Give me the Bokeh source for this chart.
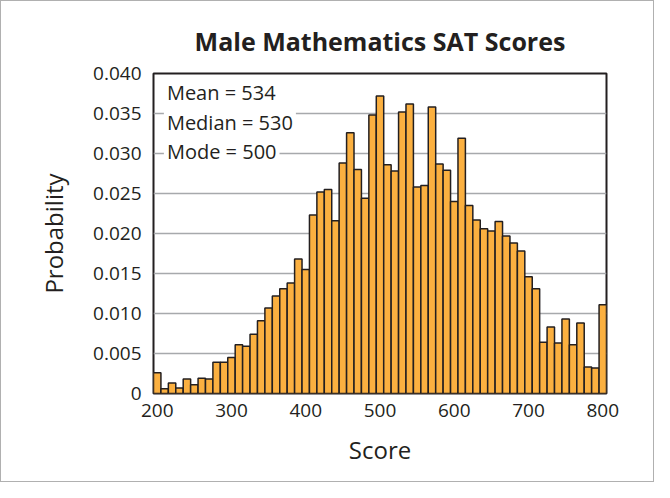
from bokeh.plotting import figure
from bokeh.models import FixedTicker, Label, Range1d
from bokeh.embed import file_html
from bokeh.resources import INLINE

# ---- data ----
scores = [200, 210, 220, 230, 240, 250, 260, 270, 280, 290,
          300, 310, 320, 330, 340, 350, 360, 370, 380, 390,
          400, 410, 420, 430, 440, 450, 460, 470, 480, 490,
          500, 510, 520, 530, 540, 550, 560, 570, 580, 590,
          600, 610, 620, 630, 640, 650, 660, 670, 680, 690,
          700, 710, 720, 730, 740, 750, 760, 770, 780, 790,
          800]
probability = [0.0026, 0.0006, 0.0013, 0.0007, 0.0018, 0.0011, 0.0019, 0.0018, 0.0039, 0.0039,
               0.0045, 0.0061, 0.0059, 0.0074, 0.0091, 0.0107, 0.0122, 0.0131, 0.0138, 0.0168,
               0.0155, 0.0223, 0.0252, 0.0255, 0.0216, 0.0288, 0.0326, 0.0280, 0.0244, 0.0348,
               0.0372, 0.0286, 0.0278, 0.0352, 0.0362, 0.0258, 0.0260, 0.0358, 0.0287, 0.0279,
               0.0240, 0.0319, 0.0235, 0.0217, 0.0206, 0.0203, 0.0215, 0.0197, 0.0188, 0.0178,
               0.0146, 0.0131, 0.0064, 0.0083, 0.0063, 0.0093, 0.0061, 0.0088, 0.0033, 0.0032,
               0.0111]
bin_width = 10
x_ticks = [200, 300, 400, 500, 600, 700, 800]
x_tick_labels = ["200", "300", "400", "500", "600", "700", "800"]
y_ticks = [0, 0.005, 0.010, 0.015, 0.020, 0.025, 0.030, 0.035, 0.040]
y_tick_labels = ["0", "0.005", "0.010", "0.015", "0.020", "0.025", "0.030", "0.035", "0.040"]
stats_text = ["Mean = 534", "Median = 530", "Mode = 500"]
title_text = "Male Mathematics SAT Scores"
x_label = "Score"
y_label = "Probability"

FONT = "Open Sans"
TXT = "#231f20"

p = figure(output_backend="svg", toolbar_location=None,
           frame_width=453, frame_height=320,
           min_border_left=152, min_border_right=47,
           min_border_top=72, min_border_bottom=88,
           x_range=Range1d(195, 805), y_range=Range1d(0, 0.040),
           title=title_text)

p.styles = {"border": "1px solid #b0b0b0"}
p.background_fill_color = "white"
p.border_fill_color = "white"
p.outline_line_color = TXT
p.outline_line_width = 2

p.title.align = "center"
p.title.text_font = FONT
p.title.text_font_size = "25px"
p.title.text_font_style = "bold"
p.title.text_color = TXT
p.title.standoff = 31

p.vbar(x=scores, top=probability, width=bin_width, bottom=0,
       fill_color="#fbb040", line_color=TXT, line_width=1.5)

# axes
p.xaxis.ticker = FixedTicker(ticks=x_ticks)
p.xaxis.major_label_overrides = dict(zip(x_ticks, x_tick_labels))
p.yaxis.ticker = FixedTicker(ticks=y_ticks)
p.yaxis.major_label_overrides = dict(zip(y_ticks, y_tick_labels))
for ax in (p.xaxis[0], p.yaxis[0]):
    ax.axis_line_color = None
    ax.major_tick_line_color = None
    ax.minor_tick_line_color = None
    ax.major_label_text_font = FONT
    ax.major_label_text_font_size = "19px"
    ax.major_label_text_color = TXT
    ax.axis_label_text_font = FONT
    ax.axis_label_text_font_size = "24px"
    ax.axis_label_text_font_style = "normal"
    ax.axis_label_text_color = TXT
p.xaxis.axis_label = x_label
p.yaxis.axis_label = y_label
p.xaxis.major_label_standoff = 4
p.yaxis.major_label_standoff = 6
p.xaxis.axis_label_standoff = 13
p.yaxis.axis_label_standoff = 20

p.xgrid.grid_line_color = None
p.ygrid.ticker = FixedTicker(ticks=y_ticks)
p.ygrid.grid_line_color = "#a7a9ac"
p.ygrid.grid_line_width = 1.5

# stats annotations
label_y = [0.03765, 0.03390, 0.03028]
for t, yy in zip(stats_text, label_y):
    p.add_layout(Label(x=209, y=yy, text=t, text_font=FONT, text_font_size="20px",
                       text_color=TXT, text_baseline="middle", text_align="left",
                       background_fill_color="white", padding=3))

open("out.html", "w").write(file_html(p, INLINE))
